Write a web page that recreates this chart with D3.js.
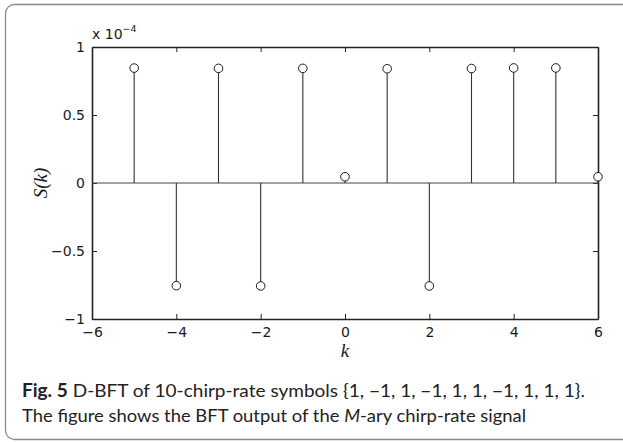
<!DOCTYPE html>
<html>
<head>
<meta charset="utf-8">
<script src="https://cdn.jsdelivr.net/npm/d3@7"></script>
<style>
  html, body { margin: 0; padding: 0; background: #fff; }
  svg { display: block; }
</style>
</head>
<body>
<svg id="fig" width="623" height="442"></svg>
<script>
// Stem data: BFT output S(k), in units of 1e-4
const kValues = [-5, -4, -3, -2, -1, 0, 1, 2, 3, 4, 5, 6];
const sValues = [0.845, -0.755, 0.843, -0.757, 0.843, 0.046, 0.840, -0.757, 0.842, 0.846, 0.846, 0.046];
const xTicks = [-6, -4, -2, 0, 2, 4, 6];
const yTicks = [-1, -0.5, 0, 0.5, 1];
const yTickLabels = ["\u22121", "\u22120.5", "0", "0.5", "1"];

const svg = d3.select("#fig");

// Caption frame
svg.append("rect")
  .attr("x", 5.5).attr("y", 4.5)
  .attr("width", 640).attr("height", 435)
  .attr("rx", 9).attr("ry", 9)
  .attr("fill", "none").attr("stroke", "#8a8a8a").attr("stroke-width", 1.3);

const plotL = 92, plotR = 598, plotT = 47, plotB = 319;
const x = d3.scaleLinear().domain([-6, 6]).range([plotL, plotR]);
const y = d3.scaleLinear().domain([-1, 1]).range([plotB, plotT]);

const fmtX = d => d < 0 ? "\u2212" + Math.abs(d) : String(d);
const fmtY = d => yTickLabels[yTicks.indexOf(d)];

const axisFont = "'DejaVu Sans', Verdana, sans-serif";
const tickSize = "14px";

// Axes: labelled bottom/left, plain top/right, ticks pointing inward
const gB = svg.append("g").attr("transform", `translate(0,${plotB})`)
  .call(d3.axisBottom(x).tickValues(xTicks).tickSize(-5).tickSizeOuter(0).tickPadding(8).tickFormat(fmtX));
const gT = svg.append("g").attr("transform", `translate(0,${plotT})`)
  .call(d3.axisTop(x).tickValues(xTicks).tickSize(-5).tickSizeOuter(0).tickFormat(""));
const gL = svg.append("g").attr("transform", `translate(${plotL},0)`)
  .call(d3.axisLeft(y).tickValues(yTicks).tickSize(-5).tickSizeOuter(0).tickPadding(7).tickFormat(fmtY));
const gR = svg.append("g").attr("transform", `translate(${plotR},0)`)
  .call(d3.axisRight(y).tickValues(yTicks).tickSize(-5).tickSizeOuter(0).tickFormat(""));

[gB, gT, gL, gR].forEach(g => {
  g.attr("font-size", null).attr("font-family", null);
  g.select(".domain").attr("stroke", "#222").attr("stroke-width", 1.6);
  g.selectAll(".tick line").attr("stroke", "#222").attr("stroke-width", 1);
  g.selectAll(".tick text").attr("fill", "#1a1a1a")
    .attr("font-family", axisFont).attr("font-size", tickSize);
});
gB.selectAll(".tick text").attr("dy", "0.71em");

// Exponent marker
const expo = svg.append("text")
  .attr("x", plotL).attr("y", 39)
  .attr("fill", "#1a1a1a")
  .attr("font-family", axisFont).attr("font-size", tickSize);
expo.append("tspan").text("x 10");
expo.append("tspan").attr("dy", -7).attr("font-size", "9.5px").text("\u22124");

// Zero baseline
svg.append("line")
  .attr("x1", x(-6)).attr("x2", x(6))
  .attr("y1", y(0)).attr("y2", y(0))
  .attr("stroke", "#444").attr("stroke-width", 1.2);

const data = kValues.map((k, i) => ({ k, s: sValues[i] }));

// Stems
svg.append("g").selectAll("line").data(data).join("line")
  .attr("x1", d => x(d.k)).attr("x2", d => x(d.k))
  .attr("y1", y(0)).attr("y2", d => y(d.s))
  .attr("stroke", "#333").attr("stroke-width", 1.1);

// Circle markers
svg.append("g").selectAll("circle").data(data).join("circle")
  .attr("cx", d => x(d.k)).attr("cy", d => y(d.s))
  .attr("r", 4.3)
  .attr("fill", "#fff").attr("stroke", "#1a1a1a").attr("stroke-width", 1);

// Axis titles
const serif = "'Liberation Serif', 'Times New Roman', serif";
svg.append("text")
  .attr("transform", `translate(47,${y(0)}) rotate(-90)`)
  .attr("text-anchor", "middle")
  .attr("fill", "#1a1a1a")
  .attr("font-family", serif).attr("font-style", "italic").attr("font-size", "19px")
  .text("S(k)");
svg.append("text")
  .attr("x", x(0)).attr("y", 357)
  .attr("text-anchor", "middle")
  .attr("fill", "#1a1a1a")
  .attr("font-family", serif).attr("font-style", "italic").attr("font-size", "19px")
  .text("k");

// Caption
const capFont = "Lato, 'Open Sans', sans-serif";
const cap1 = svg.append("text")
  .attr("x", 22).attr("y", 397)
  .attr("fill", "#222")
  .attr("font-family", capFont).attr("font-size", "18px")
  .attr("textLength", 563).attr("lengthAdjust", "spacingAndGlyphs");
cap1.append("tspan").attr("font-weight", "bold").text("Fig. 5");
cap1.append("tspan").text(" D-BFT of 10-chirp-rate symbols {1, \u22121, 1, \u22121, 1, 1, \u22121, 1, 1, 1}.");

const cap2 = svg.append("text")
  .attr("x", 22).attr("y", 422)
  .attr("fill", "#222")
  .attr("font-family", capFont).attr("font-size", "18px")
  .attr("textLength", 504).attr("lengthAdjust", "spacingAndGlyphs");
cap2.append("tspan").text("The figure shows the BFT output of the ");
cap2.append("tspan").attr("font-style", "italic").text("M");
cap2.append("tspan").text("-ary chirp-rate signal");
</script>
</body>
</html>
